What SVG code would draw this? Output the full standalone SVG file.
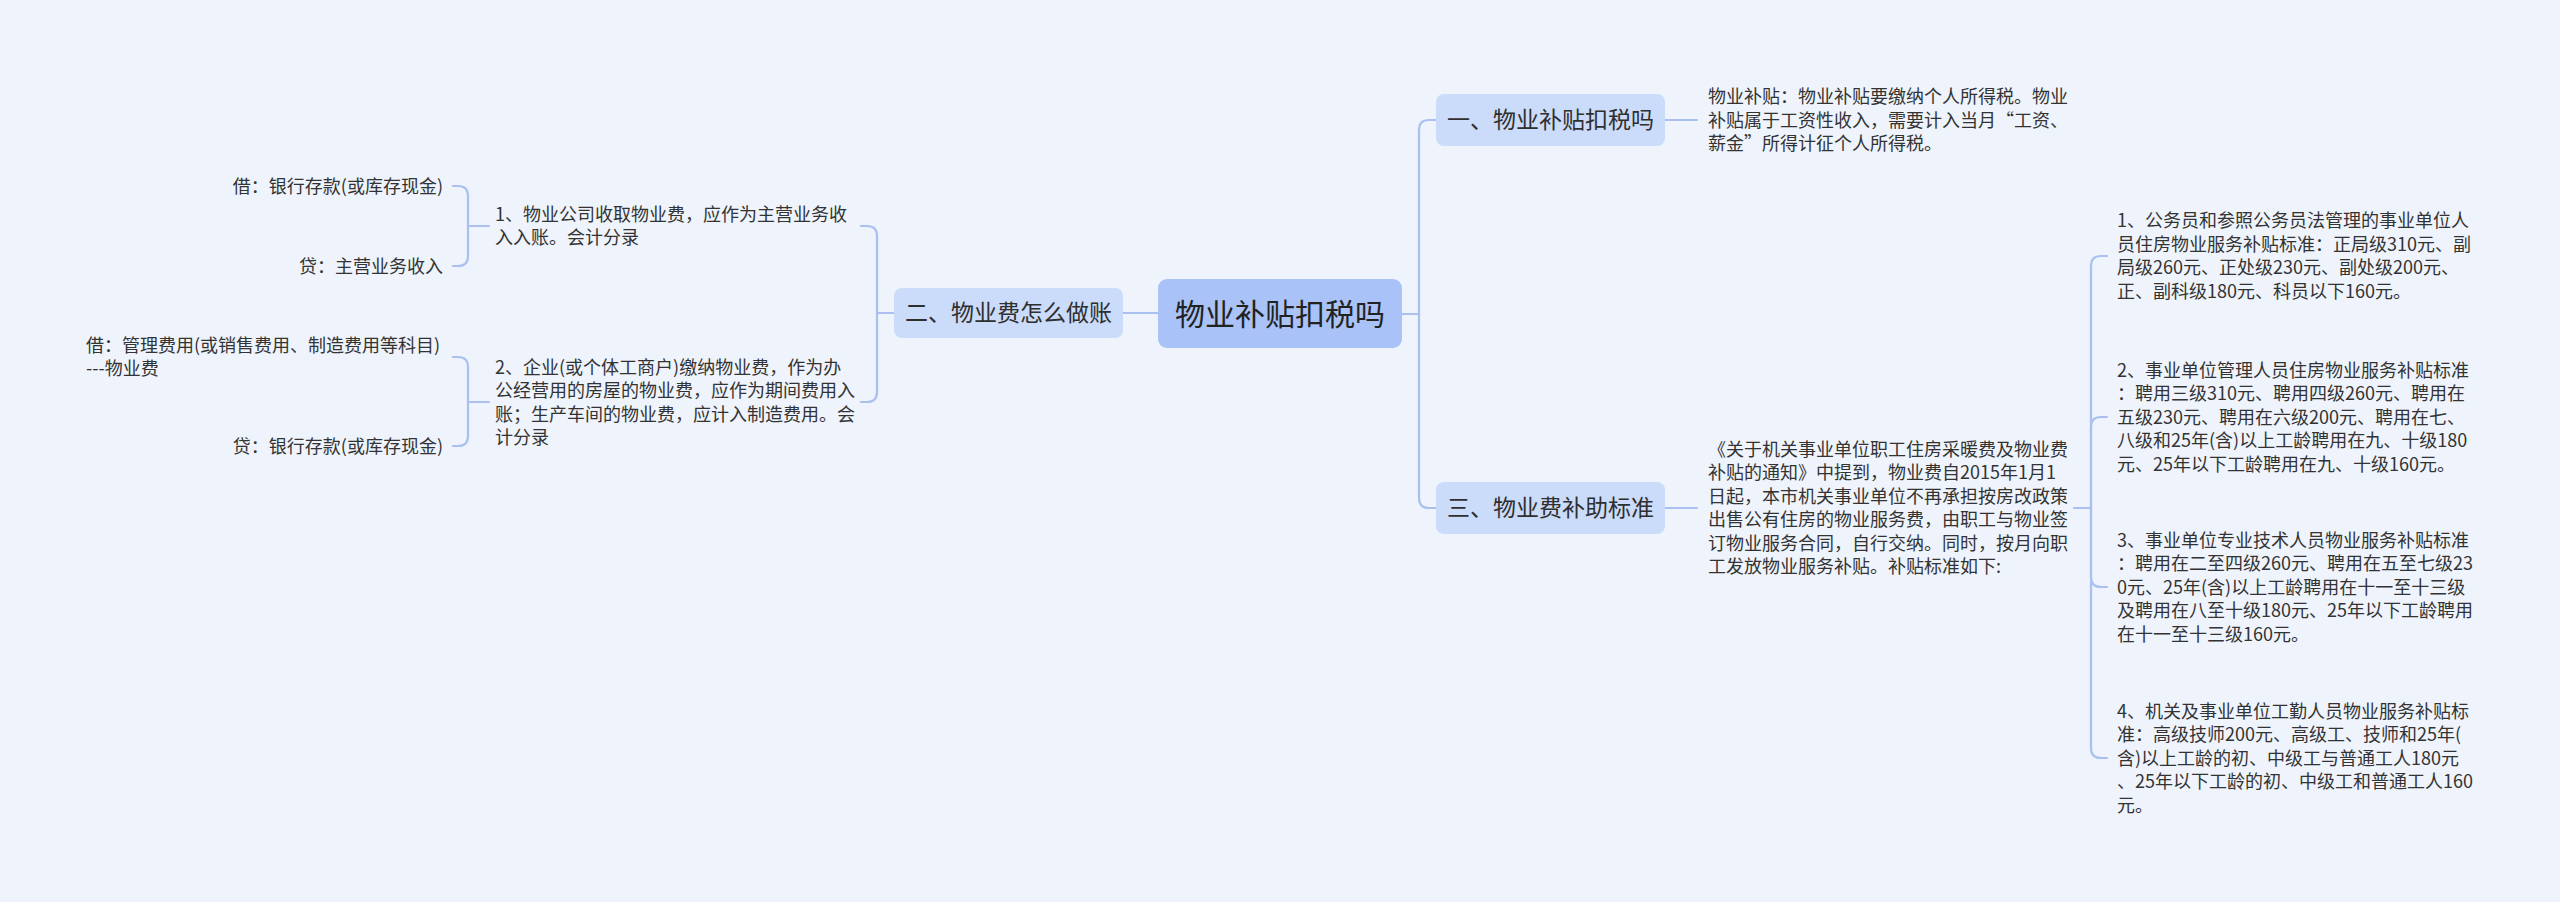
<svg xmlns="http://www.w3.org/2000/svg" width="2560" height="902" viewBox="0 0 2560 902">
<style>
.bg{fill:#eef3fc}
.root{fill:#a9c3f8}
.br{fill:#cbdbfa}
.ln{fill:none;stroke:#a9c0f0;stroke-width:2.2;stroke-linecap:round}
text{font-family:"Noto Sans CJK SC","Microsoft YaHei","Noto Sans",sans-serif;fill:#333333}
.t{font-size:18px}
.rt{font-size:30px;fill:#222222}
.bt{font-size:23px;fill:#2f2f2f}
</style>
<rect class="bg" x="0" y="0" width="2560" height="902"/>
<g id="connectors">
<path class="ln" d="M1402,314 H1419"/>
<path class="ln" d="M1419,314 V130 Q1419,120 1429,120 H1437"/>
<path class="ln" d="M1419,314 V498 Q1419,508 1429,508 H1437"/>
<path class="ln" d="M1158,313 H1123"/>
<path class="ln" d="M894,313 H877"/>
<path class="ln" d="M877,313 V236 Q877,226 867,226 H861"/>
<path class="ln" d="M877,313 V392 Q877,402 867,402 H861"/>
<path class="ln" d="M489,226 H468"/>
<path class="ln" d="M468,226 V196 Q468,186 458,186 H453"/>
<path class="ln" d="M468,226 V256 Q468,266 458,266 H453"/>
<path class="ln" d="M489,402 H468"/>
<path class="ln" d="M468,402 V367 Q468,357 458,357 H453"/>
<path class="ln" d="M468,402 V436 Q468,446 458,446 H453"/>
<path class="ln" d="M1665,120 H1697"/>
<path class="ln" d="M1665,508 H1697"/>
<path class="ln" d="M2074,508 H2091"/>
<path class="ln" d="M2091,508 V266 Q2091,256 2101,256 H2107"/>
<path class="ln" d="M2091,508 V427 Q2091,417 2101,417 H2107"/>
<path class="ln" d="M2091,508 V577 Q2091,587 2101,587 H2107"/>
<path class="ln" d="M2091,508 V748 Q2091,758 2101,758 H2107"/>
</g>
<g id="root">
<rect class="root" x="1158" y="279" width="244" height="69" rx="9"/>
<text class="rt" x="1280" y="324.5" text-anchor="middle">物业补贴扣税吗</text>
</g>
<g id="b2">
<rect class="br" x="894" y="288" width="229" height="50" rx="8"/>
<text class="bt" x="1008.5" y="321" text-anchor="middle">二、物业费怎么做账</text>
</g>
<g id="b1">
<rect class="br" x="1436" y="94" width="229" height="52" rx="8"/>
<text class="bt" x="1550.5" y="128" text-anchor="middle">一、物业补贴扣税吗</text>
</g>
<g id="b3">
<rect class="br" x="1436" y="482" width="229" height="52" rx="8"/>
<text class="bt" x="1550.5" y="516" text-anchor="middle">三、物业费补助标准</text>
</g>
<g id="l1">
<text class="t" x="495"><tspan x="495" y="220.5">1、物业公司收取物业费，应作为主营业务收</tspan><tspan x="495" y="244">入入账。会计分录</tspan></text>
</g>
<g id="l2">
<text class="t" x="495"><tspan x="495" y="373.5">2、企业(或个体工商户)缴纳物业费，作为办</tspan><tspan x="495" y="397">公经营用的房屋的物业费，应作为期间费用入</tspan><tspan x="495" y="420.5">账；生产车间的物业费，应计入制造费用。会</tspan><tspan x="495" y="444">计分录</tspan></text>
</g>
<g id="l1a">
<text class="t" x="443" y="192.5" text-anchor="end">借：银行存款(或库存现金)</text>
</g>
<g id="l1b">
<text class="t" x="443" y="272.5" text-anchor="end">贷：主营业务收入</text>
</g>
<g id="l2a">
<text class="t"><tspan x="86" y="351.5">借：管理费用(或销售费用、制造费用等科目)</tspan><tspan x="86" y="375">---物业费</tspan></text>
</g>
<g id="l2b">
<text class="t" x="443" y="452.5" text-anchor="end">贷：银行存款(或库存现金)</text>
</g>
<g id="r1">
<text class="t"><tspan x="1708" y="103">物业补贴：物业补贴要缴纳个人所得税。物业</tspan><tspan x="1708" y="126.5">补贴属于工资性收入，需要计入当月“工资、</tspan><tspan x="1708" y="150">薪金”所得计征个人所得税。</tspan></text>
</g>
<g id="r3">
<text class="t"><tspan x="1708" y="455.5">《关于机关事业单位职工住房采暖费及物业费</tspan><tspan x="1708" y="479">补贴的通知》中提到，物业费自2015年1月1</tspan><tspan x="1708" y="502.5">日起，本市机关事业单位不再承担按房改政策</tspan><tspan x="1708" y="526">出售公有住房的物业服务费，由职工与物业签</tspan><tspan x="1708" y="549.5">订物业服务合同，自行交纳。同时，按月向职</tspan><tspan x="1708" y="573">工发放物业服务补贴。补贴标准如下:</tspan></text>
</g>
<g id="s1">
<text class="t"><tspan x="2117" y="227">1、公务员和参照公务员法管理的事业单位人</tspan><tspan x="2117" y="250.5">员住房物业服务补贴标准：正局级310元、副</tspan><tspan x="2117" y="274">局级260元、正处级230元、副处级200元、</tspan><tspan x="2117" y="297.5">正、副科级180元、科员以下160元。</tspan></text>
</g>
<g id="s2">
<text class="t"><tspan x="2117" y="376.5">2、事业单位管理人员住房物业服务补贴标准</tspan><tspan x="2117" y="400">：聘用三级310元、聘用四级260元、聘用在</tspan><tspan x="2117" y="423.5">五级230元、聘用在六级200元、聘用在七、</tspan><tspan x="2117" y="447">八级和25年(含)以上工龄聘用在九、十级180</tspan><tspan x="2117" y="470.5">元、25年以下工龄聘用在九、十级160元。</tspan></text>
</g>
<g id="s3">
<text class="t"><tspan x="2117" y="546.5">3、事业单位专业技术人员物业服务补贴标准</tspan><tspan x="2117" y="570">：聘用在二至四级260元、聘用在五至七级23</tspan><tspan x="2117" y="593.5">0元、25年(含)以上工龄聘用在十一至十三级</tspan><tspan x="2117" y="617">及聘用在八至十级180元、25年以下工龄聘用</tspan><tspan x="2117" y="640.5">在十一至十三级160元。</tspan></text>
</g>
<g id="s4">
<text class="t"><tspan x="2117" y="717.5">4、机关及事业单位工勤人员物业服务补贴标</tspan><tspan x="2117" y="741">准：高级技师200元、高级工、技师和25年(</tspan><tspan x="2117" y="764.5">含)以上工龄的初、中级工与普通工人180元</tspan><tspan x="2117" y="788">、25年以下工龄的初、中级工和普通工人160</tspan><tspan x="2117" y="811.5">元。</tspan></text>
</g>
</svg>
